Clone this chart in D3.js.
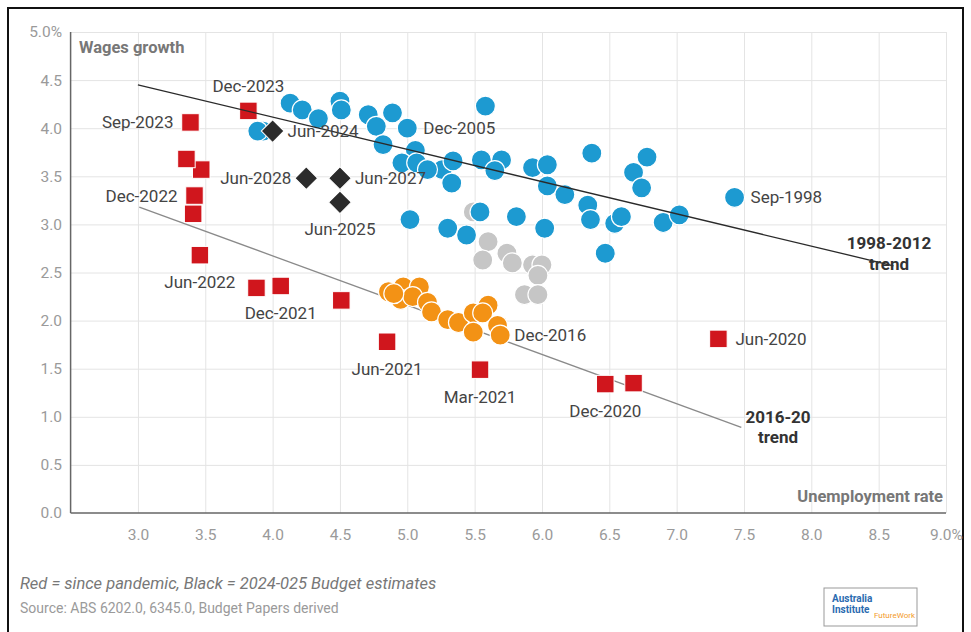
<!DOCTYPE html>
<html><head><meta charset="utf-8">
<script src="https://cdn.jsdelivr.net/npm/d3@7"></script>
<style>
body{margin:0;background:#fff}
svg{display:block;font-family:Roboto,"Noto Sans",sans-serif}
</style>
</head><body><svg id="c" width="971" height="632"></svg>
<script>
// ---- data ----
const xTickValues = [3.0,3.5,4.0,4.5,5.0,5.5,6.0,6.5,7.0,7.5,8.0,8.5,9.0];
const xTickLabels = ["3.0","3.5","4.0","4.5","5.0","5.5","6.0","6.5","7.0","7.5","8.0","8.5","9.0%"];
const yTickValues = [0,0.5,1.0,1.5,2.0,2.5,3.0,3.5,4.0,4.5,5.0];
const yTickLabels = ["0.0","0.5","1.0","1.5","2.0","2.5","3.0","3.5","4.0","4.5","5.0%"];

// 1998-2012 (blue)
const blueUnemp = [3.93,4.13,4.22,4.34,4.50,4.51,4.71,4.77,4.89,5.00,4.82,5.06,4.96,5.07,5.26,5.34,5.33,5.58,5.55,5.70,5.65,5.93,6.04,6.04,6.17,6.34,6.37,6.36,6.02,6.54,6.59,6.47,6.78,6.68,6.74,6.90,7.02,7.43,5.02,5.30,5.44,5.54,5.81,5.15,3.89];
const blueWages = [3.97,4.26,4.19,4.10,4.28,4.19,4.14,4.02,4.16,4.00,3.83,3.77,3.64,3.64,3.57,3.66,3.43,4.23,3.67,3.67,3.56,3.59,3.62,3.40,3.31,3.20,3.74,3.05,2.96,3.01,3.08,2.70,3.70,3.54,3.38,3.02,3.10,3.28,3.05,2.96,2.89,3.13,3.08,3.57,3.97];
const blueLabels = ["","","","","","","","","","Dec-2005","","","","","","","","","","","","","","","","","","","","","","","","","","","","Sep-1998","","","","","","",""];

// 2012-2016 (grey)
const greyUnemp = [5.49,5.60,5.56,5.74,5.78,5.93,6.00,5.97,5.87,5.97];
const greyWages = [3.13,2.82,2.63,2.70,2.60,2.58,2.58,2.47,2.27,2.27];

// 2016-2020 (orange)
const orangeUnemp = [4.86,4.97,5.09,4.95,5.04,5.15,5.18,5.30,5.38,5.49,5.60,5.56,5.49,5.67,5.69,4.90];
const orangeWages = [2.30,2.35,2.35,2.22,2.25,2.19,2.09,2.01,1.98,2.08,2.16,2.08,1.88,1.95,1.85,2.28];
const orangeLabels = ["","","","","","","","","","","","","","","Dec-2016",""];

// since pandemic (red)
const redUnemp = [7.31,6.68,6.47,5.54,4.85,4.51,4.06,3.88,3.46,3.41,3.42,3.47,3.36,3.39,3.82];
const redWages = [1.81,1.35,1.34,1.49,1.78,2.21,2.36,2.34,2.68,3.11,3.30,3.57,3.68,4.06,4.18];
const redLabels = ["Jun-2020","","Dec-2020","Mar-2021","Jun-2021","","Dec-2021","","Jun-2022","","Dec-2022","","","Sep-2023","Dec-2023"];
const redLabelPos = ["right","","below","below","below","","below","","below","","left","","","left","above"];

// Budget estimates (black)
const blackUnemp = [4.00,4.50,4.25,4.50];
const blackWages = [3.97,3.23,3.48,3.48];
const blackLabels = ["Jun-2024","Jun-2025","Jun-2028","Jun-2027"];
const blackLabelPos = ["right","below","left","right"];

// trend lines
const trend9812 = [[3.0,4.45],[8.61,2.57]];
const trend1620 = [[3.01,3.18],[7.48,0.89]];

// ---- drawing ----
const svg = d3.select("#c");
const x = d3.scaleLinear().domain([2.5,9.0]).range([70.6,946]);
const y = d3.scaleLinear().domain([0,5]).range([513,32]);

// outer frame
svg.append("rect").attr("x",8).attr("y",8).attr("width",955).attr("height",640)
  .attr("fill","none").attr("stroke","#111").attr("stroke-width",2);

// gridlines
svg.append("g").attr("transform","translate(0,513)")
  .call(d3.axisBottom(x).tickValues(xTickValues).tickSize(-481).tickFormat(""))
  .call(g=>g.select(".domain").remove())
  .call(g=>g.selectAll("line").attr("stroke","#e4e4e4").attr("stroke-width",1));
svg.append("g").attr("transform","translate(70.6,0)")
  .call(d3.axisLeft(y).tickValues(yTickValues.slice(1)).tickSize(-875.4).tickFormat(""))
  .call(g=>g.select(".domain").remove())
  .call(g=>g.selectAll("line").attr("stroke","#e4e4e4").attr("stroke-width",1));

// tick labels
svg.append("g").attr("transform","translate(0,513)")
  .call(d3.axisBottom(x).tickValues(xTickValues).tickSize(0).tickPadding(16)
    .tickFormat((d,i)=>xTickLabels[i]))
  .call(g=>g.select(".domain").remove())
  .call(g=>g.selectAll("text").attr("fill","#9a9a9a").style("font-size","15.5px").style("font-family","Roboto"));
svg.append("g").attr("transform","translate(62,0)")
  .call(d3.axisLeft(y).tickValues(yTickValues).tickSize(0).tickPadding(0)
    .tickFormat((d,i)=>yTickLabels[i]))
  .call(g=>g.select(".domain").remove())
  .call(g=>g.selectAll("text").attr("fill","#9a9a9a").style("font-size","15.5px").style("font-family","Roboto"));

// axis lines
svg.append("line").attr("x1",x(2.5)).attr("x2",x(2.5)).attr("y1",y(5)).attr("y2",y(0))
  .attr("stroke","#666").attr("stroke-width",1.5);
svg.append("line").attr("x1",x(2.5)).attr("x2",x(9)).attr("y1",y(0)).attr("y2",y(0))
  .attr("stroke","#666").attr("stroke-width",1.5);

// axis titles
svg.append("text").attr("x",79).attr("y",53).text("Wages growth")
  .attr("fill","#777").style("font-size","16.5px").style("font-weight","bold");
svg.append("text").attr("x",943).attr("y",502).attr("text-anchor","end").text("Unemployment rate")
  .attr("fill","#777").style("font-size","16.5px").style("font-weight","bold");

const line = d3.line().x(d=>x(d[0])).y(d=>y(d[1]));

// 2016-20 trend (behind)
svg.append("path").attr("d",line(trend1620)).attr("stroke","#8a8a8a").attr("stroke-width",1.3).attr("fill","none");

function circles(ux, wy, color){
  svg.append("g").selectAll("circle").data(ux.map((u,i)=>[u,wy[i]])).join("circle")
    .attr("cx",d=>x(d[0])).attr("cy",d=>y(d[1])).attr("r",10)
    .attr("fill",color).attr("stroke","#fff").attr("stroke-width",1.2);
}
circles(greyUnemp, greyWages, "#c6c6c6");
circles(orangeUnemp, orangeWages, "#f39215");
circles(blueUnemp, blueWages, "#1d9ad1");

// red squares
const sq = 17.5;
svg.append("g").selectAll("rect").data(redUnemp.map((u,i)=>[u,redWages[i]])).join("rect")
  .attr("x",d=>x(d[0])-sq/2).attr("y",d=>y(d[1])-sq/2).attr("width",sq).attr("height",sq)
  .attr("fill","#d0161d").attr("stroke","#fff").attr("stroke-width",1);

// 1998-2012 trend (on top)
svg.append("path").attr("d",line(trend9812)).attr("stroke","#2a2a2a").attr("stroke-width",1.3).attr("fill","none");

// black diamonds
const ds = 16;
svg.append("g").selectAll("rect").data(blackUnemp.map((u,i)=>[u,blackWages[i]])).join("rect")
  .attr("x",-ds/2).attr("y",-ds/2).attr("width",ds).attr("height",ds)
  .attr("transform",d=>`translate(${x(d[0])},${y(d[1])}) rotate(45)`)
  .attr("fill","#2b2b2b").attr("stroke","#fff").attr("stroke-width",1);

// labels
function label(px, py, txt, pos, off){
  if(!txt) return;
  let tx=px, ty=py+6, anchor="middle";
  if(pos==="right"){tx=px+off; anchor="start";}
  if(pos==="left"){tx=px-off; anchor="end";}
  if(pos==="below"){ty=py+33;}
  if(pos==="above"){ty=py-19;}
  svg.append("text").attr("x",tx).attr("y",ty).attr("text-anchor",anchor).text(txt)
    .attr("fill","#444").style("font-size","17px");
}
blueUnemp.forEach((u,i)=>label(x(u),y(blueWages[i]),blueLabels[i],"right",16));
orangeUnemp.forEach((u,i)=>label(x(u),y(orangeWages[i]),orangeLabels[i],"right",14));
redUnemp.forEach((u,i)=>label(x(u),y(redWages[i]),redLabels[i],redLabelPos[i],17));
blackUnemp.forEach((u,i)=>label(x(u),y(blackWages[i]),blackLabels[i],blackLabelPos[i],15));

// trend labels
function trendLabel(cx, cy){
  return svg.append("text").attr("x",cx).attr("y",cy).attr("text-anchor","middle")
    .attr("fill","#333").style("font-size","17px").style("font-weight","bold");
}
trendLabel(889,249).text("1998-2012");
trendLabel(889,270).text("trend");
trendLabel(778,423).text("2016-20");
trendLabel(778,443).text("trend");

// footer
svg.append("text").attr("x",20).attr("y",589).text("Red = since pandemic, Black = 2024-025 Budget estimates")
  .attr("fill","#777").style("font-size","16.5px").style("font-style","italic");
svg.append("text").attr("x",20).attr("y",613).text("Source: ABS 6202.0, 6345.0, Budget Papers derived")
  .attr("fill","#9a9a9a").style("font-size","14px");

// logo
const lg = svg.append("g").attr("transform","translate(824,588)");
lg.append("rect").attr("width",93).attr("height",38).attr("fill","#fff").attr("stroke","#999").attr("stroke-width",1);
lg.append("text").attr("x",8).attr("y",14).text("Australia").attr("fill","#2a6bb0").style("font-size","10px").style("font-weight","bold");
lg.append("text").attr("x",8).attr("y",25).text("Institute").attr("fill","#2a6bb0").style("font-size","10px").style("font-weight","bold");
lg.append("text").attr("x",50).attr("y",30).text("FutureWork").attr("fill","#f39a2a").style("font-size","8px");
</script></body></html>
